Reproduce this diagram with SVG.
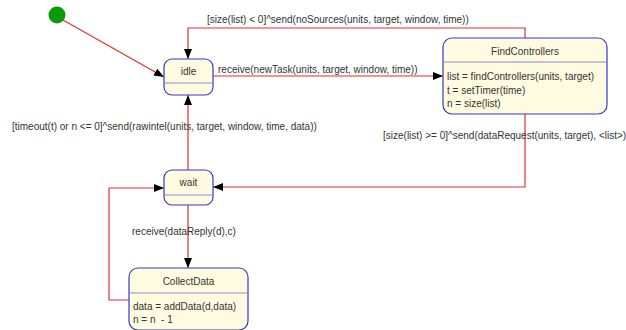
<svg xmlns="http://www.w3.org/2000/svg" width="626" height="330" viewBox="0 0 626 330">
  <style>
    .state { fill: #fffbe0; stroke: #3838c8; stroke-width: 1.2; }
    .sep { stroke: #8c8cd0; stroke-width: 1.2; }
    .wire { fill: none; stroke: #e03030; stroke-width: 1.2; }
    text { font-family: "Liberation Sans", Arial, sans-serif; font-size: 10px; fill: #333; white-space: pre; }
    .title { text-anchor: middle; }
  </style>
  <defs>
    <marker id="arrow" markerWidth="10" markerHeight="8" refX="10" refY="4" orient="auto" markerUnits="userSpaceOnUse">
      <path d="M0,0 L10,4 L0,8 Z" fill="#000"/>
    </marker>
  </defs>
  <rect width="626" height="330" fill="#fff"/>

  <g id="connectors">
    <path class="wire" d="M63,20 L164,77" marker-end="url(#arrow)"/>
    <path class="wire" d="M525,38 V28 H188 V59" marker-end="url(#arrow)"/>
    <path class="wire" d="M213,76 H443" marker-end="url(#arrow)"/>
    <path class="wire" d="M525,114 V187 H213" marker-end="url(#arrow)"/>
    <path class="wire" d="M188,170 V95" marker-end="url(#arrow)"/>
    <path class="wire" d="M188,205 V268" marker-end="url(#arrow)"/>
    <path class="wire" d="M129,300 H109 V188 H164" marker-end="url(#arrow)"/>
    <text x="207" y="23">[size(list) &lt; 0]^send(noSources(units, target, window, time))</text>
    <text x="218" y="73">receive(newTask(units, target, window, time))</text>
    <text x="383" y="139">[size(list) &gt;= 0]^send(dataRequest(units, target), &lt;list&gt;)</text>
    <text x="12" y="130">[timeout(t) or n &lt;= 0]^send(rawintel(units, target, window, time, data))</text>
    <text x="132" y="235">receive(dataReply(d),c)</text>
  </g>

  <g id="initial">
    <circle cx="57" cy="15" r="8.5" fill="#0a9a0a"/>
  </g>

  <g id="idle">
    <rect class="state" x="164" y="59" width="49" height="36" rx="8"/>
    <line class="sep" x1="164.6" y1="83" x2="212.4" y2="83"/>
    <text class="title" x="188.5" y="75">idle</text>
  </g>

  <g id="findControllers">
    <rect class="state" x="443" y="38" width="164" height="76" rx="9"/>
    <line class="sep" x1="443.6" y1="62" x2="606.4" y2="62"/>
    <text class="title" x="525" y="55">FindControllers</text>
    <text x="447" y="80">list = findControllers(units, target)</text>
    <text x="447" y="94">t = setTimer(time)</text>
    <text x="447" y="107">n = size(list)</text>
  </g>

  <g id="wait">
    <rect class="state" x="164" y="170" width="49" height="35" rx="8"/>
    <line class="sep" x1="164.6" y1="195" x2="212.4" y2="195"/>
    <text class="title" x="188.5" y="186">wait</text>
  </g>

  <g id="collectData">
    <rect class="state" x="129" y="268" width="119" height="62" rx="9"/>
    <line class="sep" x1="129.6" y1="293" x2="247.4" y2="293"/>
    <text class="title" x="188.5" y="285">CollectData</text>
    <text x="133" y="310">data = addData(d,data)</text>
    <text x="133" y="323">n = n  - 1</text>
  </g>
</svg>
